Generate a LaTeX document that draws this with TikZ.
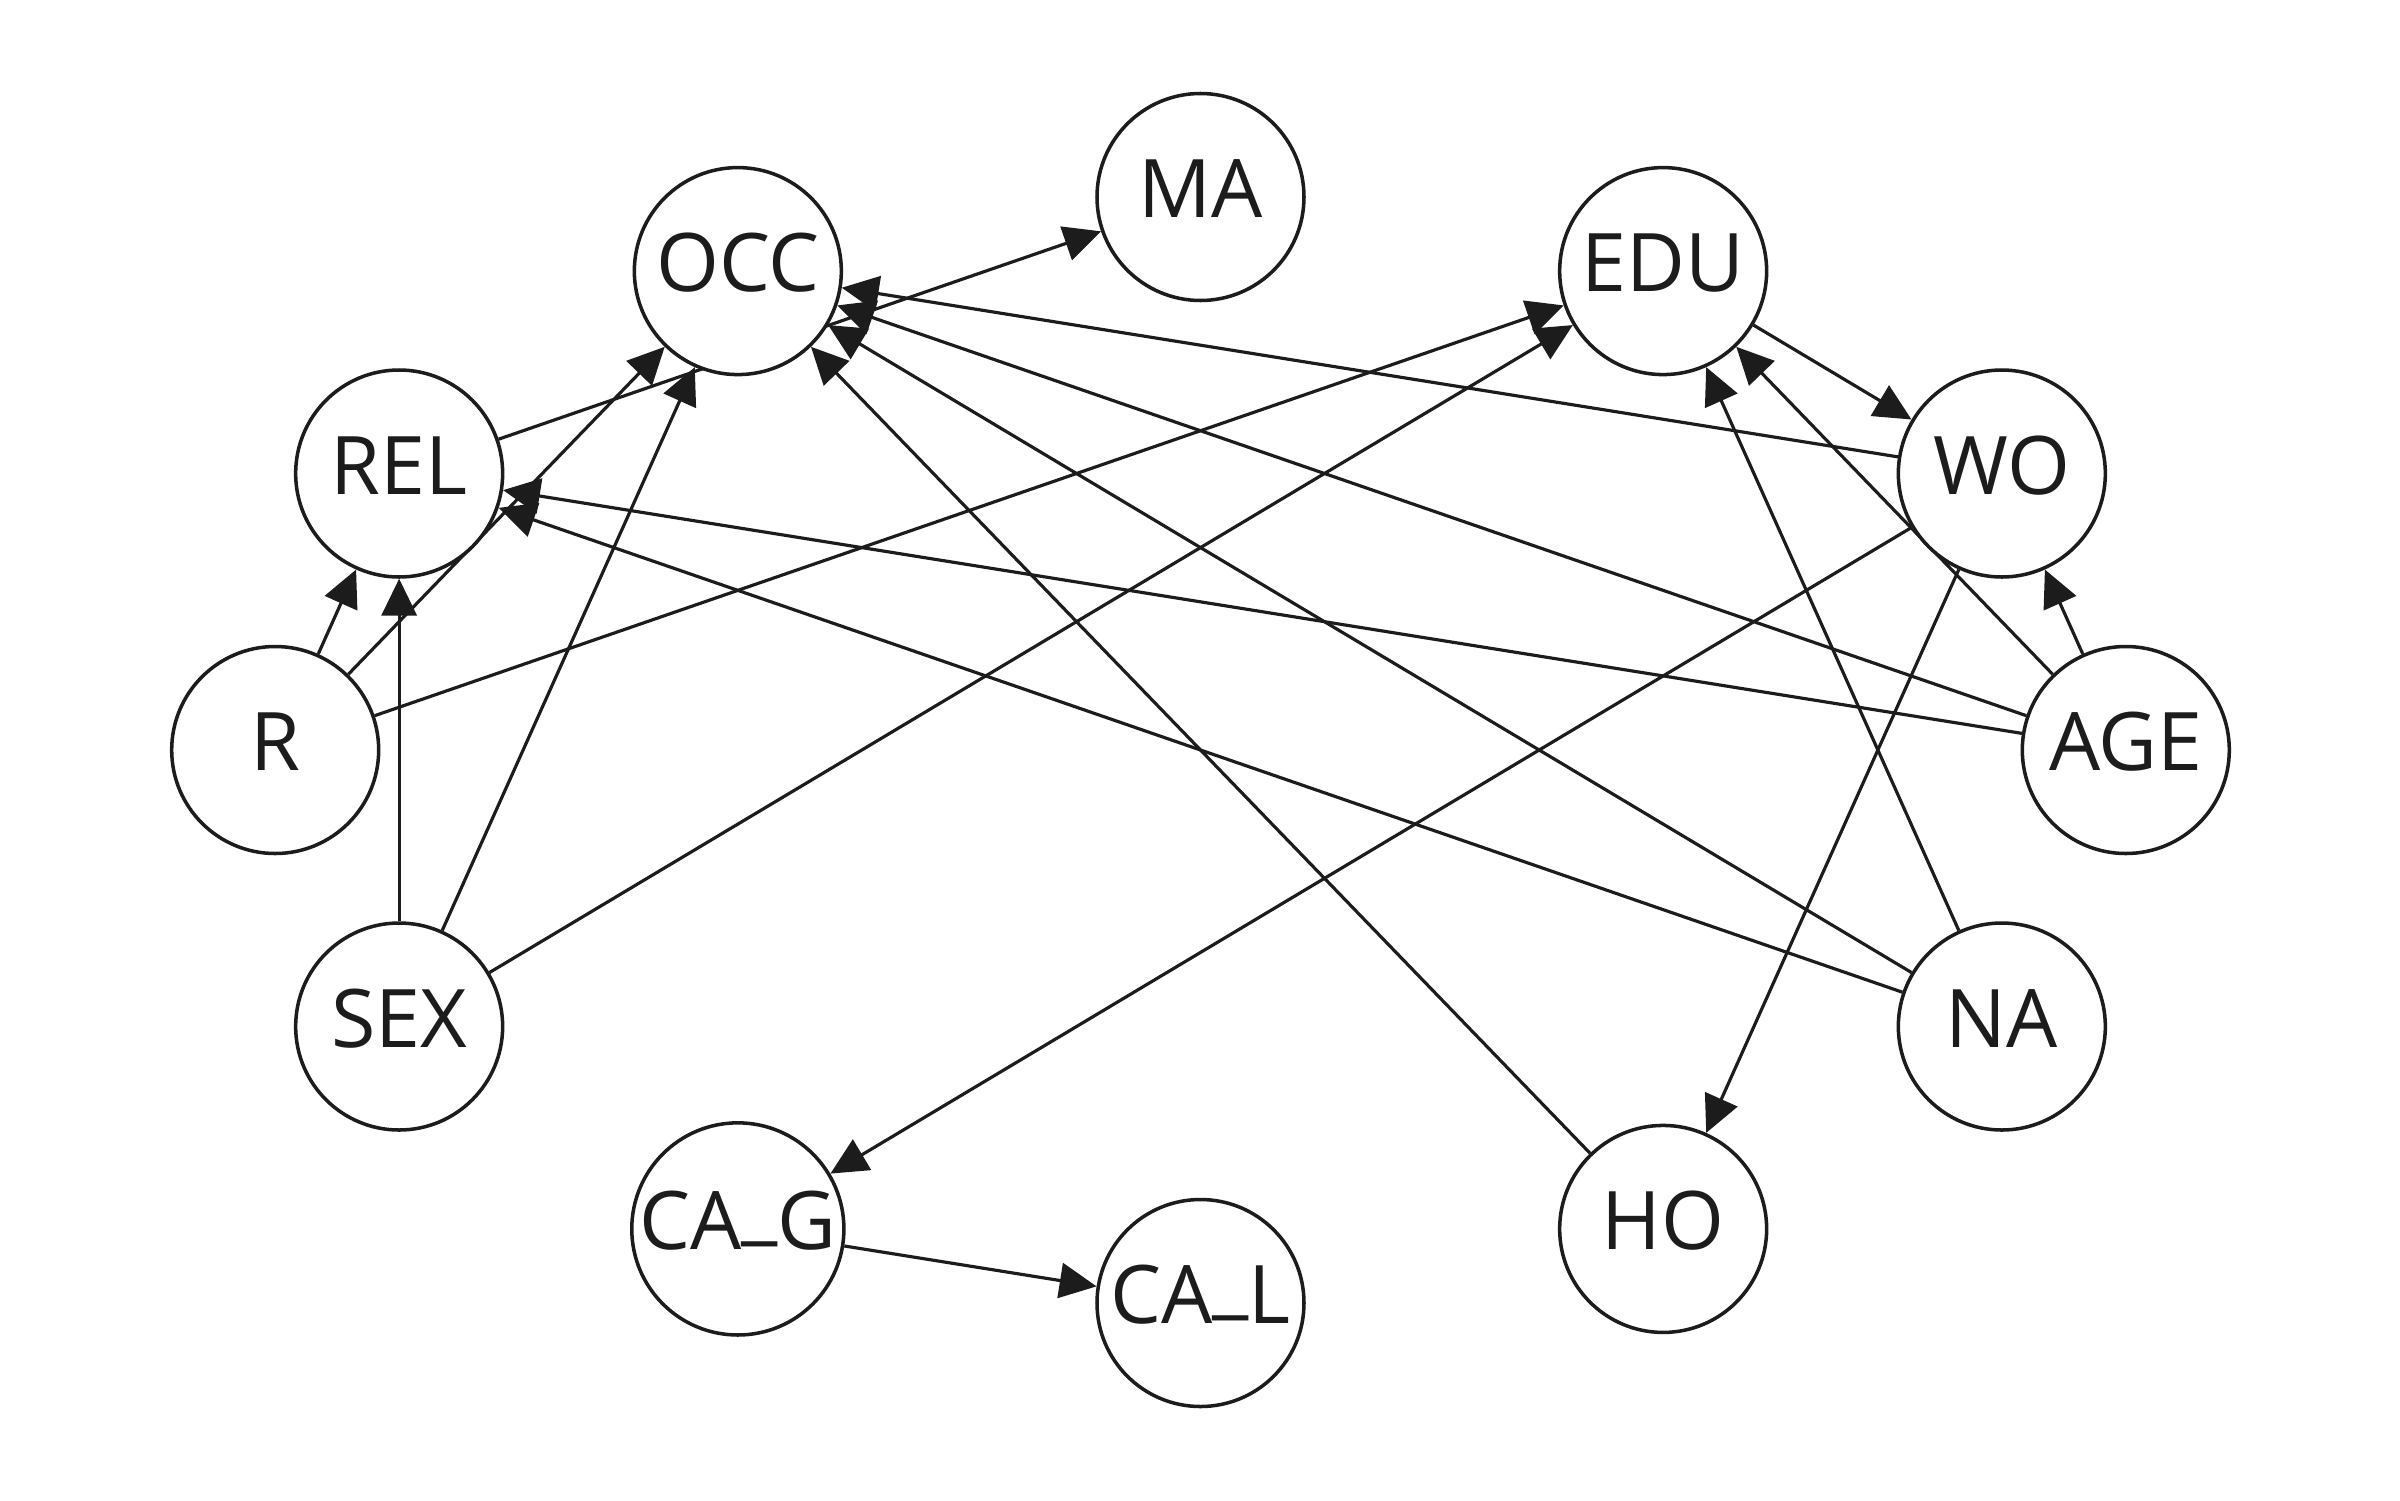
\documentclass[tikz,border=0pt]{standalone}
\usepackage{fontspec}
\setmainfont{Open Sans}
\usetikzlibrary{arrows.meta, backgrounds}

\definecolor{ink}{RGB}{28,28,28}
\def\rx{9.253}
\def\ry{5.53}
\newcommand{\lowbar}{\raisebox{.19em}{\_}}

\begin{document}
\begin{tikzpicture}
			\tikzset{var/.style={circle, draw=ink, text=ink, fill=white, line width=1pt, minimum size=2.07cm, inner sep=0pt, text height=.6cm, text depth=.19cm, font=\fontsize{23}{27}\selectfont}}
			\tikzset{edge/.style={->, draw=ink, line width=.9pt, > = {Triangle[length=10.5pt, width=10pt]}}}
			\useasboundingbox (-12.005,-7.5) rectangle (11.995,7.5);
			\node[var](MA) at ({\rx*cos(90)},{\ry*sin(90)}){MA};
			\node[var](OCC) at ({\rx*cos(120)},{\ry*sin(120)}){OCC};
			\node[var](REL) at ({\rx*cos(150)},{\ry*sin(150)}){REL};
			\node[var](R) at ({\rx*cos(180)},{\ry*sin(180)}){R};
			\node[var](SEX) at ({\rx*cos(210)},{\ry*sin(210)}){SEX};
			\node[var](CAG) at ({\rx*cos(240)},{\ry*sin(240)}){CA\lowbar G};
			\node[var](CAL) at ({\rx*cos(270)},{\ry*sin(270)}){CA\lowbar L};
			\node[var](HO) at ({\rx*cos(300)},{\ry*sin(300)}){HO};
			\node[var](NA) at ({\rx*cos(330)},{\ry*sin(330)}){NA};
			\node[var](AGE) at ({\rx*cos(0)},{\ry*sin(0)}){AGE};
			\node[var](WO) at ({\rx*cos(30)},{\ry*sin(30)}){WO};
			\node[var](EDU) at ({\rx*cos(60)},{\ry*sin(60)}){EDU};
			\begin{scope}[on background layer]
			\draw[edge](REL) -- (MA);
			\draw[edge](R) -- (REL);
			\draw[edge](R) -- (OCC);
			\draw[edge](R) -- (EDU);
			\draw[edge](SEX) -- (REL);
			\draw[edge](SEX) -- (OCC);
			\draw[edge](SEX) -- (EDU);
			\draw[edge](WO) -- (OCC);
			\draw[edge](AGE) -- (OCC);
			\draw[edge](AGE) -- (REL);
			\draw[edge](AGE) -- (WO);
			\draw[edge](AGE) -- (EDU);
			\draw[edge](EDU) -- (WO);
			\draw[edge](WO) -- (CAG);
			\draw[edge](WO) -- (HO);
			\draw[edge](NA) -- (EDU);
			\draw[edge](NA) -- (OCC);
			\draw[edge](NA) -- (REL);
			\draw[edge](HO) -- (OCC);
			\draw[edge](CAG) -- (CAL);
			\end{scope}
		\end{tikzpicture}
\end{document}
